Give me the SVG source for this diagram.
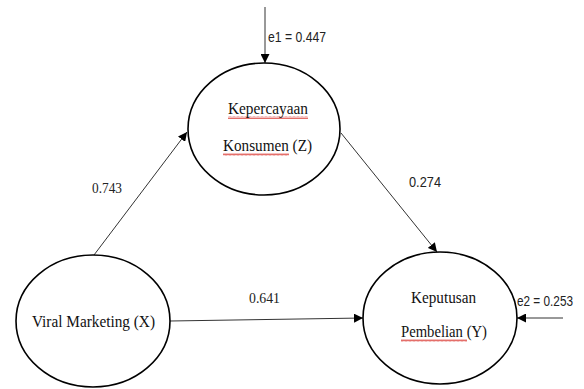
<svg xmlns="http://www.w3.org/2000/svg" width="584" height="389" viewBox="0 0 584 389">
<defs>
<marker id="ah" viewBox="0 0 10 10" refX="10" refY="5" markerWidth="9" markerHeight="9" markerUnits="userSpaceOnUse" orient="auto">
<path d="M0,0 L10,5 L0,10 z" fill="#000"/>
</marker>
<pattern id="sq" width="4" height="3" patternUnits="userSpaceOnUse">
<path d="M0,2.5 L1,0.5 L2,2.5 L3,0.5 L4,2.5" fill="none" stroke="#d9302a" stroke-width="0.7"/>
</pattern>
</defs>
<style>
.node ellipse{fill:#fff;stroke:#000;stroke-width:1.6}
.lbl{font-size:16px;fill:#111}
.num{font-size:15px;fill:#222}
.sans{font-family:"Liberation Sans Narrow","Liberation Sans",Arial,sans-serif;font-size:14px;fill:#222}
.edge{stroke:#333;stroke-width:1;fill:none;marker-end:url(#ah)}
</style>
<rect width="584" height="389" fill="#fff"/>
<g id="connectors">
<line class="edge" x1="265" y1="7" x2="265" y2="63"/>
<line class="edge" x1="94" y1="255" x2="187" y2="132"/>
<line class="edge" x1="341" y1="133" x2="437" y2="252"/>
<line class="edge" x1="170" y1="321" x2="363" y2="318"/>
<line class="edge" x1="563" y1="318" x2="517" y2="318"/>
<text class="sans" x="268" y="42" textLength="58" lengthAdjust="spacingAndGlyphs">e1 = 0.447</text>
<text class="num" font-family="Liberation Serif, serif" x="92" y="193" textLength="30" lengthAdjust="spacingAndGlyphs">0.743</text>
<text class="sans" x="409" y="187" textLength="32" lengthAdjust="spacingAndGlyphs">0.274</text>
<text class="num" font-family="Liberation Serif, serif" x="249" y="303" textLength="31" lengthAdjust="spacingAndGlyphs">0.641</text>
<text class="sans" x="517" y="306" textLength="56" lengthAdjust="spacingAndGlyphs">e2 = 0.253</text>
</g>
<g id="node-z" class="node">
<ellipse cx="264" cy="129" rx="76" ry="66"/>
<rect x="228" y="116" width="80" height="3" fill="url(#sq)"/>
<rect x="223" y="153" width="66" height="3" fill="url(#sq)"/>
<text class="lbl" font-family="Liberation Serif, serif" x="228" y="114" textLength="80" lengthAdjust="spacingAndGlyphs">Kepercayaan</text>
<text class="lbl" font-family="Liberation Serif, serif" x="223" y="151" textLength="89" lengthAdjust="spacingAndGlyphs">Konsumen (Z)</text>
</g>
<g id="node-x" class="node">
<ellipse cx="93" cy="321" rx="77" ry="66"/>
<text class="lbl" font-family="Liberation Serif, serif" x="32" y="327" textLength="123" lengthAdjust="spacingAndGlyphs">Viral Marketing (X)</text>
</g>
<g id="node-y" class="node">
<ellipse cx="440" cy="318" rx="77" ry="66"/>
<rect x="401" y="339" width="66" height="3" fill="url(#sq)"/>
<text class="lbl" font-family="Liberation Serif, serif" x="411" y="303" textLength="65" lengthAdjust="spacingAndGlyphs">Keputusan</text>
<text class="lbl" font-family="Liberation Serif, serif" x="401" y="337" textLength="86" lengthAdjust="spacingAndGlyphs">Pembelian (Y)</text>
</g>
</svg>
